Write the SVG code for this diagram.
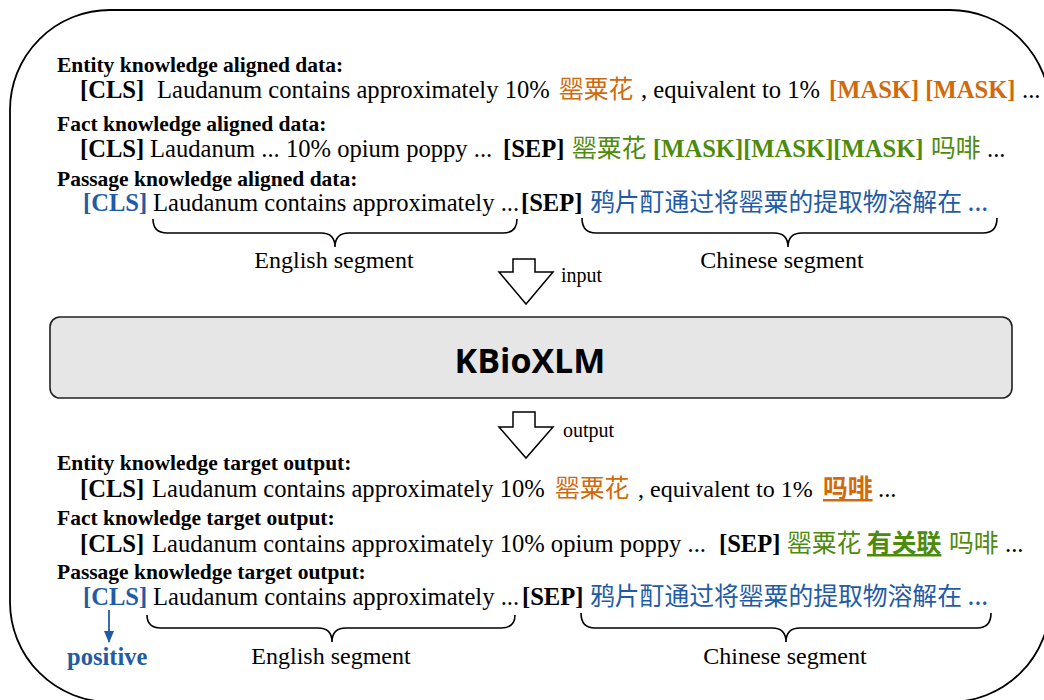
<svg xmlns="http://www.w3.org/2000/svg" width="1044" height="700" viewBox="0 0 1044 700">
  <style>
    .frame { fill: #ffffff; stroke: #000000; stroke-width: 1.8; }
    .head { font-family: "Liberation Serif", "Times New Roman", serif; font-weight: bold; font-size: 21.5px; fill: #000; }
    .body { font-family: "Liberation Serif", "Times New Roman", serif; font-size: 24.6px; fill: #000; }
    .b { font-weight: bold; }
    .cjk { font-family: "Noto Sans CJK SC", "Noto Sans", sans-serif; font-size: 24.8px; }
    .orange { fill: #d06a0c; }
    .green { fill: #4e8a0c; }
    .blue { fill: #1f5ba6; }
    .ul { text-decoration: underline; }
    .label { font-family: "Liberation Serif", "Times New Roman", serif; font-size: 24px; fill: #000; text-anchor: middle; }
    .small { font-family: "Liberation Serif", "Times New Roman", serif; font-size: 20px; fill: #000; }
    .brace { fill: none; stroke: #000; stroke-width: 1.6; }
    .block { fill: #ffffff; stroke: #000; stroke-width: 1.5; stroke-linejoin: miter; }
    .model { fill: #e6e6e6; stroke: #222; stroke-width: 1.6; }
    .model-text { font-family: "Open Sans", "Noto Sans", sans-serif; font-weight: bold; font-size: 34px; fill: #000; text-anchor: middle; }
  </style>
  <defs>
    <marker id="blue-head" viewBox="0 0 12 10" refX="11" refY="5" markerWidth="12" markerHeight="10" orient="auto" markerUnits="userSpaceOnUse">
      <path d="M0,0 L12,5 L0,10 Z" fill="#1f5ba6"/>
    </marker>
  </defs>

  <!-- outer rounded frame -->
  <rect class="frame" x="10" y="10" width="1040" height="692" rx="100" ry="100"/>

  <!-- aligned input data -->
  <g id="input-data">
    <text class="head" x="57" y="72">Entity knowledge aligned data:</text>
    <text class="body" y="98">
      <tspan class="b" x="80">[CLS]</tspan>
      <tspan x="157">Laudanum contains approximately 10%</tspan>
      <tspan class="cjk orange" x="559">罂粟花</tspan>
      <tspan x="641">, equivalent to 1%</tspan>
      <tspan class="b orange" x="829">[MASK] [MASK]</tspan>
      <tspan x="1022">...</tspan>
    </text>

    <text class="head" x="57" y="131">Fact knowledge aligned data:</text>
    <text class="body" y="157">
      <tspan class="b" x="80">[CLS]</tspan>
      <tspan x="150">Laudanum ... 10% opium poppy ...</tspan>
      <tspan class="b" x="503">[SEP]</tspan>
      <tspan class="cjk green" x="572">罂粟花</tspan>
      <tspan class="b green" x="653">[MASK][MASK][MASK]</tspan>
      <tspan class="cjk green" x="931">吗啡</tspan>
      <tspan x="987">...</tspan>
    </text>

    <text class="head" x="57" y="186">Passage knowledge aligned data:</text>
    <text class="body" y="211">
      <tspan class="b blue" x="83">[CLS]</tspan>
      <tspan x="153">Laudanum contains approximately ...</tspan>
      <tspan class="b" x="521">[SEP]</tspan>
      <tspan class="cjk blue" x="590">鸦片酊通过将罂粟的提取物溶解在 ...</tspan>
    </text>

    <path class="brace" d="M153,219 Q153,233 167,233 L321,233 Q335,233 335,247 Q335,233 349,233 L503,233 Q517,233 517,219"/>
    <path class="brace" d="M582,218 Q582,233 596,233 L774,233 Q788,233 788,247 Q788,233 802,233 L983,233 Q997,233 997,218"/>
    <text class="label" x="334" y="268">English segment</text>
    <text class="label" x="782" y="268">Chinese segment</text>
  </g>

  <!-- model -->
  <g id="model">
    <rect class="model" x="50" y="317" width="962" height="81" rx="10" ry="10"/>
    <text class="model-text" x="530" y="373">KBioXLM</text>
  </g>

  <!-- target outputs -->
  <g id="target-output">
    <text class="head" x="57" y="470">Entity knowledge target output:</text>
    <text class="body" y="497">
      <tspan class="b" x="80">[CLS]</tspan>
      <tspan x="152">Laudanum contains approximately 10%</tspan>
      <tspan class="cjk orange" x="555">罂粟花</tspan>
      <tspan x="638" style="font-size:24px">, equivalent to 1%</tspan>
      <tspan class="cjk orange b ul" x="823">吗啡</tspan>
      <tspan x="878">...</tspan>
    </text>

    <text class="head" x="57" y="525">Fact knowledge target output:</text>
    <text class="body" y="552">
      <tspan class="b" x="80">[CLS]</tspan>
      <tspan x="152">Laudanum contains approximately 10% opium poppy ...</tspan>
      <tspan class="b" x="719">[SEP]</tspan>
      <tspan class="cjk green" x="787">罂粟花</tspan>
      <tspan class="cjk green b ul" x="867">有关联</tspan>
      <tspan class="cjk green" x="949">吗啡</tspan>
      <tspan x="1005">...</tspan>
    </text>

    <text class="head" x="57" y="579">Passage knowledge target output:</text>
    <text class="body" y="605">
      <tspan class="b blue" x="83">[CLS]</tspan>
      <tspan x="153">Laudanum contains approximately ...</tspan>
      <tspan class="b" x="522">[SEP]</tspan>
      <tspan class="cjk blue" x="590">鸦片酊通过将罂粟的提取物溶解在 ...</tspan>
    </text>

    <path class="brace" d="M147,615 Q147,628 161,628 L318,628 Q332,628 332,642 Q332,628 346,628 L501,628 Q515,628 515,615"/>
    <path class="brace" d="M581,613 Q581,628 595,628 L772,628 Q786,628 786,642 Q786,628 800,628 L977,628 Q991,628 991,613"/>
    <text class="label" x="331" y="664">English segment</text>
    <text class="label" x="785" y="664">Chinese segment</text>
    <text class="body b blue" x="67" y="665" style="font-size:24.5px">positive</text>
  </g>

  <!-- connectors -->
  <g id="connectors">
    <polygon class="block" points="513,259 535,259 535,272 553,272 526,304 499,272 513,272"/>
    <text class="small" x="561" y="282">input</text>
    <polygon class="block" points="513,412 535,412 535,427 553,427 526,458 499,427 513,427"/>
    <text class="small" x="563" y="437">output</text>
    <line x1="109" y1="610" x2="109" y2="642" stroke="#1f5ba6" stroke-width="1.8" marker-end="url(#blue-head)"/>
  </g>
</svg>
